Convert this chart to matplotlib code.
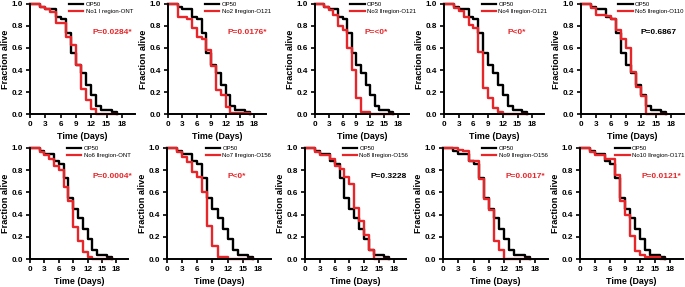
import matplotlib
matplotlib.use("Agg")
import matplotlib.pyplot as plt
from matplotlib.lines import Line2D

plt.rcParams['font.family'] = ['Liberation Sans', 'DejaVu Sans']
plt.rcParams['font.weight'] = 'bold'

days = [0, 2, 3, 4, 5, 6, 7, 8, 9, 10, 11, 12, 13, 14, 15, 16, 17]
op50 = [1.0, 0.97, 0.95, 0.95, 0.88, 0.86, 0.73, 0.55, 0.45, 0.37, 0.27, 0.18, 0.08, 0.04, 0.04, 0.02, 0.0]

labels = ["No1 Ⅰ region-ONT", "No2 Ⅱregion-O121", "No3 Ⅱregion-O121", "No4 Ⅱregion-O121",
          "No5 Ⅱregion-O110", "No6 Ⅱregion-ONT", "No7 Ⅱregion-O156", "No8 Ⅱregion-O156",
          "No9 Ⅱregion-O156", "No10 Ⅱregion-O171"]
pvals = ["P=0.0284*", "P=0.0176*", "P=<0*", "P<0*", "P=0.6867",
         "P=0.0004*", "P<0*", "P=0.3228", "P=0.0017*", "P=0.0121*"]
significant = [True, True, True, True, False, True, True, False, True, True]

no1 = [1.0, 0.97, 0.95, 0.92, 0.82, 0.82, 0.70, 0.63, 0.45, 0.23, 0.13, 0.05, 0.0, 0.0, 0.0, 0.0, 0.0]
no2 = [1.0, 0.88, 0.88, 0.86, 0.78, 0.70, 0.68, 0.58, 0.44, 0.22, 0.18, 0.07, 0.01, 0.01, 0.01, 0.01, 0.0]
no3 = [1.0, 0.97, 0.94, 0.90, 0.80, 0.76, 0.60, 0.40, 0.15, 0.02, 0.02, 0.0, 0.0, 0.0, 0.0, 0.0, 0.0]
no4 = [1.0, 0.96, 0.93, 0.88, 0.81, 0.78, 0.56, 0.24, 0.15, 0.06, 0.02, 0.0, 0.0, 0.0, 0.0, 0.0, 0.0]
no5 = [1.0, 0.96, 0.90, 0.90, 0.89, 0.86, 0.76, 0.68, 0.60, 0.38, 0.25, 0.17, 0.0, 0.0, 0.0, 0.0, 0.0]
no6 = [1.0, 0.96, 0.94, 0.90, 0.84, 0.80, 0.65, 0.52, 0.29, 0.16, 0.06, 0.02, 0.0, 0.0, 0.0, 0.0, 0.0]
no7 = [1.0, 0.96, 0.92, 0.87, 0.78, 0.74, 0.60, 0.30, 0.12, 0.02, 0.02, 0.0, 0.0, 0.0, 0.0, 0.0, 0.0]
no8 = [1.0, 0.96, 0.94, 0.94, 0.90, 0.84, 0.81, 0.74, 0.68, 0.46, 0.34, 0.22, 0.08, 0.0, 0.0, 0.0, 0.0]
no9 = [1.0, 1.0, 0.98, 0.97, 0.88, 0.88, 0.72, 0.54, 0.44, 0.16, 0.08, 0.0, 0.0, 0.0, 0.0, 0.0, 0.0]
no10 = [1.0, 0.96, 0.94, 0.94, 0.90, 0.90, 0.76, 0.52, 0.40, 0.21, 0.07, 0.04, 0.02, 0.02, 0.02, 0.0, 0.0]
series = [no1, no2, no3, no4, no5, no6, no7, no8, no9, no10]

W, H = 685, 287
fig = plt.figure(figsize=(W / 100, H / 100), dpi=100)

x0s = [30, 168, 315, 444, 581, 30, 167, 305, 443, 580]
scales = [5.1, 4.8, 4.6, 4.9, 5.0, 4.8, 5.05, 4.93, 5.1, 5.0]
ptext_x = [0.60, 0.60, 0.53, 0.63, 0.58, 0.64, 0.58, 0.645, 0.60, 0.60]
leg_x = [0.35, 0.35, 0.35, 0.35, 0.34, 0.35, 0.35, 0.35, 0.35, 0.32]
xmax = 20.5
RED = '#e8262a'

for i in range(10):
    row = i // 5
    top, bot = (3.5, 114.5) if row == 0 else (148, 259)
    left = x0s[i]
    width = xmax * scales[i]
    ax = fig.add_axes([left / W, 1 - bot / H, width / W, (bot - top) / H])
    ax.step(days, op50, where='post', color='black', lw=1.7, clip_on=False, zorder=3)
    ax.step(days, series[i], where='post', color=RED, lw=1.7, clip_on=False, zorder=4)
    ax.set_xlim(0, xmax)
    ax.set_ylim(0, 1.0)
    ax.set_xticks([0, 3, 6, 9, 12, 15, 18])
    ax.set_yticks([0.0, 0.2, 0.4, 0.6, 0.8, 1.0])
    ax.set_yticklabels(['0.0', '0.2', '0.4', '0.6', '0.8', '1.0'])
    for s in ['top', 'right']:
        ax.spines[s].set_visible(False)
    for s in ['left', 'bottom']:
        ax.spines[s].set_linewidth(1.4)
        ax.spines[s].set_zorder(5)
    ax.tick_params(axis='both', labelsize=5.9, width=1.2, length=3, pad=1.8)
    for lab in ax.get_xticklabels() + ax.get_yticklabels():
        lab.set_fontweight('bold')
    ax.set_xlabel('Time (Days)', fontsize=6.4, fontweight='bold', labelpad=3)
    ax.set_ylabel('Fraction alive', fontsize=6.6, fontweight='bold', labelpad=1.5)
    handles = [Line2D([], [], color='black', lw=1.6), Line2D([], [], color=RED, lw=1.6)]
    ax.legend(handles, ['OP50', labels[i]], loc='upper left',
              bbox_to_anchor=(leg_x[i], 1.04), frameon=False,
              prop={'size': 4.3, 'weight': 'normal',
                    'family': ['Liberation Sans', 'DejaVu Sans']},
              handlelength=2.4, handletextpad=0.4, labelspacing=0.35,
              borderaxespad=0.0)
    ax.text(ptext_x[i], 0.74, pvals[i], transform=ax.transAxes, fontsize=6,
            fontweight='bold', color=RED if significant[i] else 'black',
            ha='left', va='center')

fig.savefig('out.png', dpi=100)
